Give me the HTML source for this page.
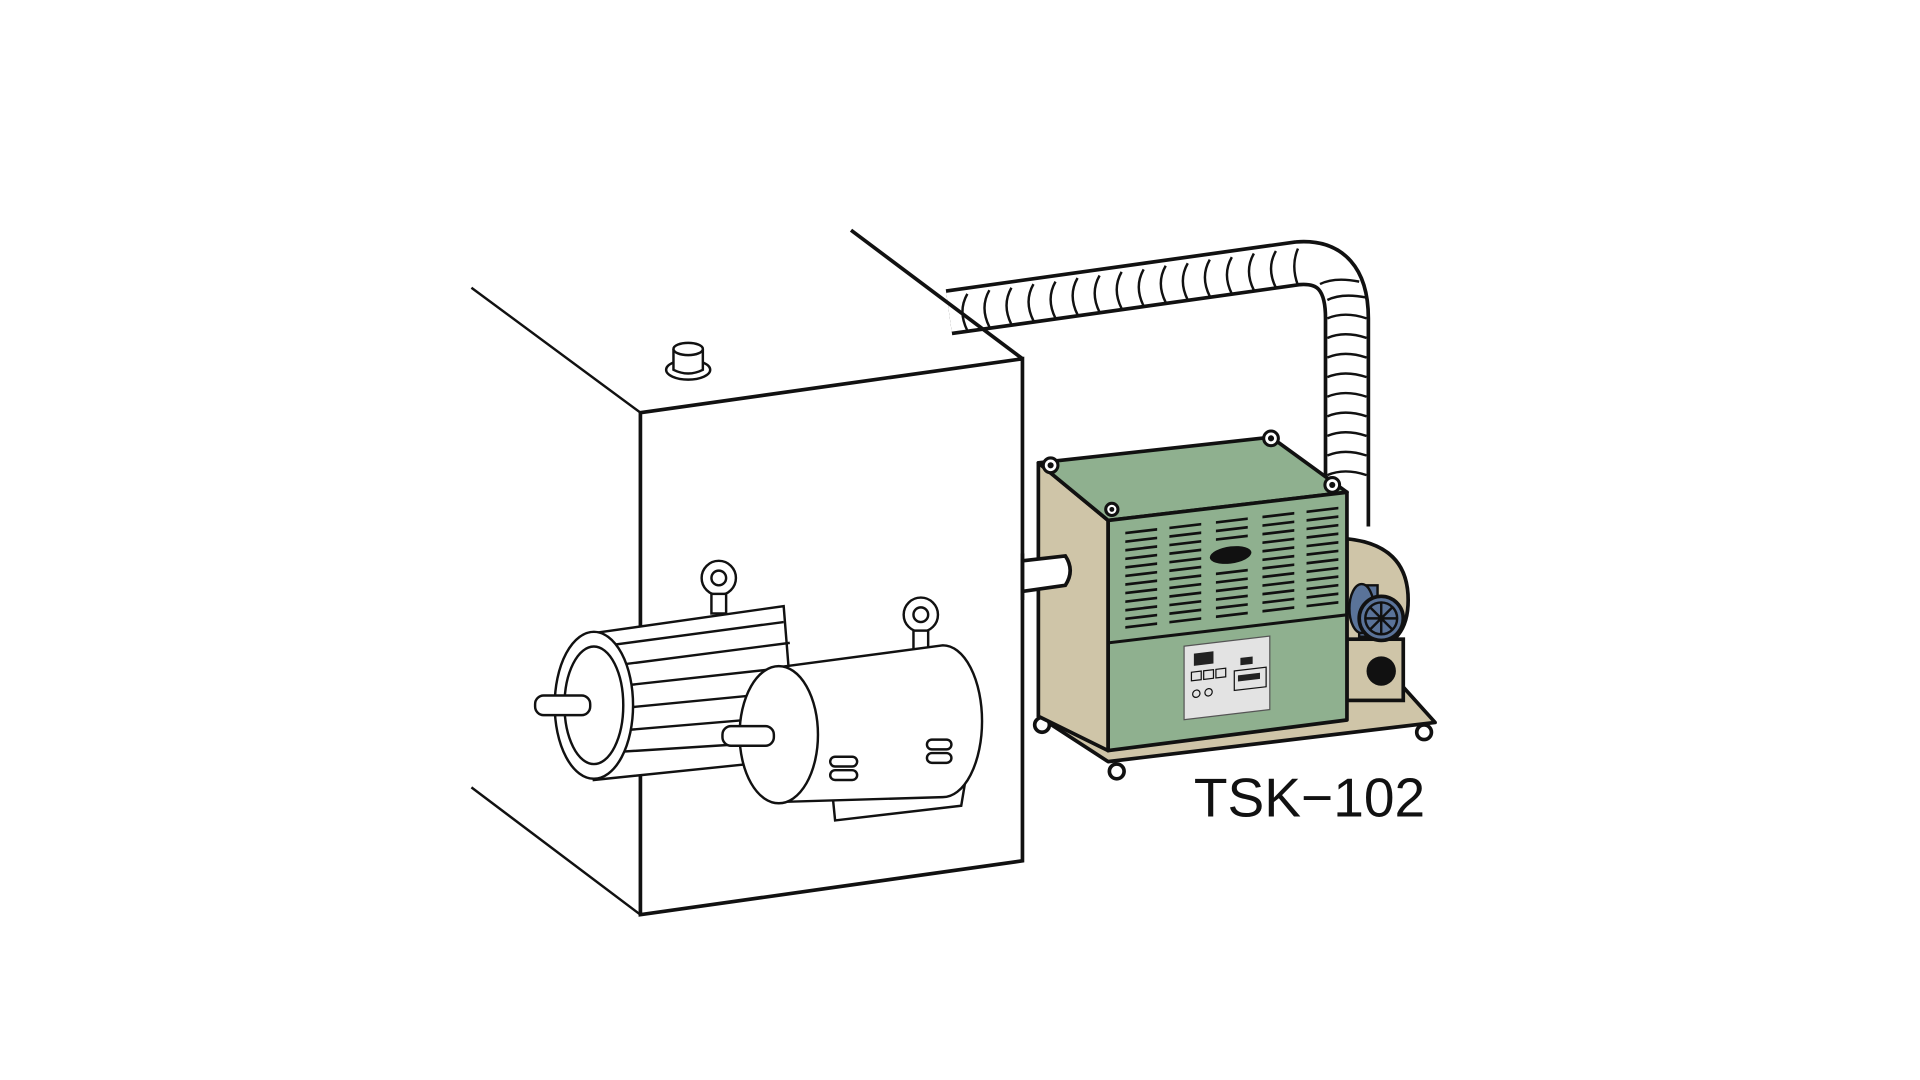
<!DOCTYPE html>
<html><head><meta charset="utf-8"><style>
html,body{margin:0;padding:0;background:#fff;width:1920px;height:1080px;overflow:hidden}
svg{display:block}
</style></head><body>
<svg width="1920" height="1080" viewBox="0 0 1568 882" xmlns="http://www.w3.org/2000/svg">
<rect width="1568" height="882" fill="#fff"/>
<!-- Duct -->
<path d="M775 255 L1060 215 Q1100 212 1100 260 L1100 430" fill="none" stroke="#111" stroke-width="38" stroke-linejoin="round"/>
<path d="M775 255 L1060 215 Q1100 212 1100 260 L1100 430" fill="none" stroke="#fff" stroke-width="32" stroke-linejoin="round"/>
<g fill="none" stroke="#111" stroke-width="2">
<path d="M790 240 q-8 14 0 30 M808 237 q-8 14 0 30 M826 235 q-8 14 0 30 M844 232 q-8 14 0 30 M862 230 q-8 14 0 30 M880 227 q-8 14 0 30 M898 225 q-8 14 0 30 M916 222 q-8 14 0 30 M934 220 q-8 14 0 30 M952 217 q-8 14 0 30 M970 215 q-8 14 0 30 M988 212 q-8 14 0 30 M1006 210 q-8 14 0 30 M1024 207 q-8 14 0 30 M1042 205 q-8 14 0 30 M1060 203 q-6 14 0 30"/>
<path d="M1078 232 q12 -6 32 -2 M1084 245 q12 -6 32 -2 M1084 260 q14 -6 32 0 M1084 276 q14 -6 32 0 M1084 292 q14 -6 32 0 M1084 308 q14 -6 32 0 M1084 324 q14 -6 32 0 M1084 340 q14 -6 32 0 M1084 356 q14 -6 32 0 M1084 372 q14 -6 32 0 M1084 388 q14 -6 32 0"/>
</g>
<!-- Box -->
<g fill="none" stroke="#111" stroke-width="2">
<line x1="385" y1="235" x2="523" y2="337"/>
<line x1="385" y1="643" x2="523" y2="747"/>
</g>
<polygon points="523,337 835,293 835,703 523,747" fill="#fff" stroke="#111" stroke-width="3"/>
<line x1="695" y1="188" x2="835" y2="293" stroke="#111" stroke-width="3"/>
<!-- top knob -->
<ellipse cx="562" cy="302" rx="18" ry="8" fill="#fff" stroke="#111" stroke-width="2"/>
<path d="M550 285 L550 302 Q562 308 574 302 L574 285" fill="#fff" stroke="#111" stroke-width="2"/>
<ellipse cx="562" cy="285" rx="12" ry="5" fill="#fff" stroke="#111" stroke-width="2"/>
<!-- Motor 1 (finned) -->
<g stroke="#111" stroke-width="2" fill="#fff">
<circle cx="587" cy="472" r="14"/><circle cx="587" cy="472" r="6"/>
<rect x="581" y="485" width="12" height="16"/>
<polygon points="485,517 640,495 650,620 485,637"/>
<path d="M490 528 L640 508 M490 545 L645 525 M490 562 L645 545 M490 580 L645 565 M490 598 L645 585 M490 615 L648 605" fill="none"/>
<ellipse cx="485" cy="576" rx="32" ry="60"/>
<ellipse cx="485" cy="576" rx="24" ry="48"/>
<rect x="437" y="568" width="45" height="16" rx="7"/>
</g>
<!-- Motor 2 -->
<g stroke="#111" stroke-width="2" fill="#fff">
<circle cx="752" cy="502" r="14"/><circle cx="752" cy="502" r="6"/>
<rect x="746" y="515" width="12" height="16"/>
<polygon points="680,650 788,640 785,658 682,670"/>
<path d="M635 545 L770 527 A32 62 0 0 1 770 651 L635 655 Z"/>
<ellipse cx="636" cy="600" rx="32" ry="56"/>
<rect x="590" y="593" width="42" height="16" rx="7"/>
<rect x="678" y="618" width="22" height="8" rx="4"/><rect x="678" y="629" width="22" height="8" rx="4"/>
<rect x="757" y="604" width="20" height="8" rx="4"/><rect x="757" y="615" width="20" height="8" rx="4"/>
</g>
<!-- Heater base -->
<polygon points="848,585 905,622 1172,590 1145,560 1100,565" fill="#cfc5a8" stroke="#111" stroke-width="3" stroke-linejoin="round"/>
<circle cx="851" cy="592" r="6" fill="#fff" stroke="#111" stroke-width="3"/>
<circle cx="912" cy="630" r="6" fill="#fff" stroke="#111" stroke-width="3"/>
<circle cx="1163" cy="598" r="6" fill="#fff" stroke="#111" stroke-width="3"/>
<!-- fan housing -->
<path d="M1100 440 Q1150 445 1150 490 Q1150 525 1120 530 L1100 530 Z" fill="#cfc5a8" stroke="#111" stroke-width="3"/>
<rect x="1100" y="522" width="46" height="50" fill="#cfc5a8" stroke="#111" stroke-width="3"/>
<circle cx="1128" cy="548" r="12" fill="#111"/>
<path d="M1110 478 L1125 478 L1125 520 L1110 520 Z" fill="#5a7399" stroke="#111" stroke-width="2"/>
<ellipse cx="1112" cy="497" rx="10" ry="20" fill="#5a7399" stroke="#111" stroke-width="2"/>
<circle cx="1128" cy="505" r="18" fill="#5a7399" stroke="#111" stroke-width="3"/>
<circle cx="1128" cy="505" r="13" fill="none" stroke="#111" stroke-width="2"/>
<path d="M1128 492 V518 M1115 505 H1141 M1119 496 L1137 514 M1137 496 L1119 514" stroke="#111" stroke-width="2"/>
<!-- Heater body -->
<polygon points="848,378 905,425 905,613 848,585" fill="#cfc5a8" stroke="#111" stroke-width="3" stroke-linejoin="round"/>
<polygon points="848,378 1038,357 1100,402 905,425" fill="#8fb08f" stroke="#111" stroke-width="3" stroke-linejoin="round"/>
<polygon points="905,425 1100,402 1100,588 905,613" fill="#8fb08f" stroke="#111" stroke-width="3" stroke-linejoin="round"/>
<!-- stub pipe -->
<path d="M835 458 L870 454 Q878 466 870 478 L835 483 Z" fill="#fff" stroke="#111" stroke-width="3"/>
<line x1="835" y1="452" x2="835" y2="490" stroke="#111" stroke-width="3"/>
<g transform="translate(905,425) skewY(-6.7)">
<line x1="0" y1="100" x2="195" y2="100" stroke="#111" stroke-width="2.5"/>
<g stroke="#111" stroke-width="2.2">
<path d="M14 12 H40 M14 19 H40 M14 26 H40 M14 33 H40 M14 40 H40 M14 47 H40 M14 54 H40 M14 61 H40 M14 68 H40 M14 75 H40 M14 82 H40 M14 89 H40"/>
<path d="M50 12 H76 M50 19 H76 M50 26 H76 M50 33 H76 M50 40 H76 M50 47 H76 M50 54 H76 M50 61 H76 M50 68 H76 M50 75 H76 M50 82 H76 M50 89 H76"/>
<path d="M88 12 H114 M88 19 H114 M88 26 H114 M88 54 H114 M88 61 H114 M88 68 H114 M88 75 H114 M88 82 H114 M88 89 H114"/>
<path d="M126 12 H152 M126 19 H152 M126 26 H152 M126 33 H152 M126 40 H152 M126 47 H152 M126 54 H152 M126 61 H152 M126 68 H152 M126 75 H152 M126 82 H152 M126 89 H152"/>
<path d="M162 12 H188 M162 19 H188 M162 26 H188 M162 33 H188 M162 40 H188 M162 47 H188 M162 54 H188 M162 61 H188 M162 68 H188 M162 75 H188 M162 82 H188 M162 89 H188"/>
</g>
<ellipse cx="100" cy="40" rx="17" ry="7" fill="#111"/>
<rect x="62" y="110" width="70" height="60" fill="#e3e3e3" stroke="#555" stroke-width="1"/>
<rect x="70" y="117" width="16" height="10" fill="#222"/>
<rect x="108" y="125" width="10" height="6" fill="#222"/>
<rect x="68" y="132" width="8" height="7" fill="none" stroke="#111"/>
<rect x="78" y="132" width="8" height="7" fill="none" stroke="#111"/>
<rect x="88" y="132" width="8" height="7" fill="none" stroke="#111"/>
<rect x="103" y="135" width="26" height="16" fill="none" stroke="#111"/>
<rect x="106" y="139" width="18" height="5" fill="#222"/>
<circle cx="72" cy="150" r="3" fill="none" stroke="#111"/><circle cx="82" cy="150" r="3" fill="none" stroke="#111"/>
</g>
<!-- bolts -->
<g fill="#fff" stroke="#111" stroke-width="2.5">
<circle cx="858" cy="380" r="6"/><circle cx="1038" cy="358" r="6"/><circle cx="1088" cy="396" r="6"/><circle cx="908" cy="416" r="5"/>
</g>
<g fill="#111"><circle cx="858" cy="380" r="2.5"/><circle cx="1038" cy="358" r="2.5"/><circle cx="1088" cy="396" r="2.5"/><circle cx="908" cy="416" r="2"/></g>
<text x="975" y="667" font-family="Liberation Sans, sans-serif" font-size="45" fill="#111">TSK−102</text>
</svg>
</body></html>
